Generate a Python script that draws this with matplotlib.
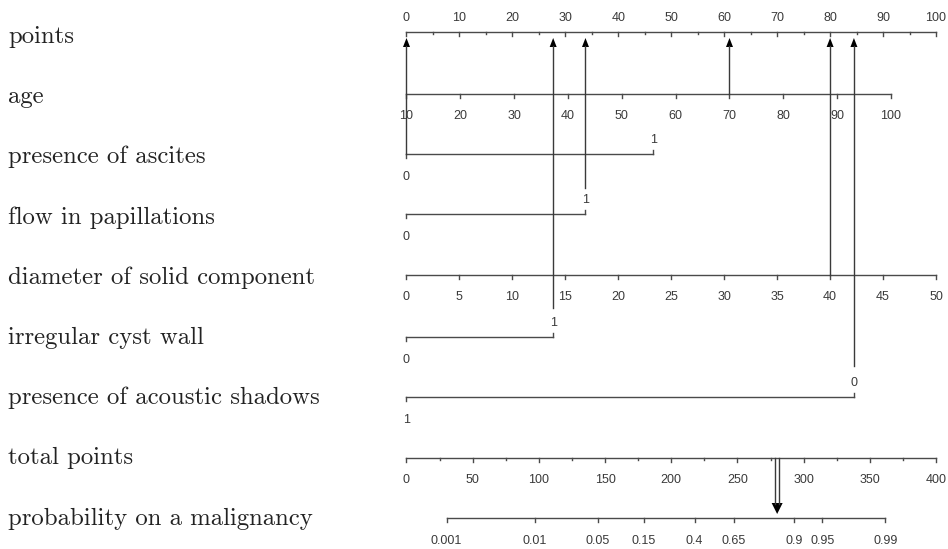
import numpy as np
import matplotlib.pyplot as plt
from matplotlib.transforms import blended_transform_factory

# Row names
row_labels = ['points', 'age', 'presence of ascites', 'flow in papillations',
              'diameter of solid component', 'irregular cyst wall',
              'presence of acoustic shadows', 'total points',
              'probability on a malignancy']

# Scales (points contributed by each predictor)
points_ticks = np.arange(0, 101, 10)
age_ticks = np.arange(10, 101, 10)
age_points_max = 91.5          # points at age 100 (age 10 -> 0)
diameter_ticks = np.arange(0, 51, 5)
diameter_points_per_unit = 2.0
ascites_levels = ['0', '1']
ascites_points = [0, 46.6]
flow_levels = ['0', '1']
flow_points = [0, 33.8]
wall_levels = ['0', '1']
wall_points = [0, 27.7]
shadow_levels = ['1', '0']
shadow_points = [0, 84.5]
total_ticks = np.arange(0, 401, 50)
prob_ticks = [0.001, 0.01, 0.05, 0.15, 0.4, 0.65, 0.9, 0.95, 0.99]
prob_labels = ['0.001', '0.01', '0.05', '0.15', '0.4', '0.65', '0.9', '0.95', '0.99']
lp_intercept = -7.956
lp_per_point = 0.0347

# Example patient drawn with arrows
patient_age = 70
patient_ascites = '0'
patient_flow = '1'
patient_diameter = 40
patient_wall = '1'
patient_shadow = '0'
patient_total = 280

# layout (pixel rows of each scale line)
line_y = [32, 94, 154, 214, 275, 337, 397, 458, 518]
px = 1 / 5.295                 # one pixel in points units
line_col = '#4a4a4a'
txt_col = '#3a3a3a'
tick_font = dict(family='Liberation Sans', size=9, color=txt_col)

fig = plt.figure(figsize=(9.48, 5.49), dpi=100)
ax = fig.add_axes([0, 0, 1, 1])
ax.set_xlim(-406.5 * px, (948 - 406.5) * px)
ax.set_ylim(549, 0)
ax.axis('off')

trans = blended_transform_factory(ax.transAxes, ax.transData)
for i, name in enumerate(row_labels):
    ax.text(8 / 948, 43 + 60.2 * i, name, transform=trans, family='cmr10',
            fontsize=17.8, color='#222222', va='baseline', ha='left')


def scale(y, xs, labels, label_dy, minor=None):
    ax.plot([xs[0], xs[-1]], [y, y], color=line_col, lw=1)
    for x, lab in zip(xs, labels):
        ax.plot([x, x], [y, y + 4], color=line_col, lw=1)
        ax.text(x, y + label_dy, lab, ha='center', va='center', **tick_font)
    if minor is not None:
        for x in minor:
            ax.plot([x, x], [y, y + 2], color=line_col, lw=1)


def binary(y, pts, levels):
    ax.plot([pts[0], pts[1]], [y, y], color=line_col, lw=1)
    ax.plot([pts[0], pts[0]], [y, y + 4], color=line_col, lw=1)
    ax.plot([pts[1], pts[1]], [y, y - 4], color=line_col, lw=1)
    ax.text(pts[1], y - 14, levels[1], ha='center', va='center', **tick_font)
    ax.text(pts[0], y + 23, levels[0], ha='center', va='center', **tick_font)


# points
scale(line_y[0], points_ticks, [str(t) for t in points_ticks], -14,
      minor=np.arange(5, 100, 10))
# age
age_x = (age_ticks - 10) / 90 * age_points_max
scale(line_y[1], age_x, [str(t) for t in age_ticks], 22)
# binaries
binary(line_y[2], ascites_points, ascites_levels)
binary(line_y[3], flow_points, flow_levels)
binary(line_y[5], wall_points, wall_levels)
binary(line_y[6], shadow_points, shadow_levels)
# diameter
scale(line_y[4], diameter_ticks * diameter_points_per_unit,
      [str(t) for t in diameter_ticks], 22)
# total points (400 total spans the 100-point width)
scale(line_y[7], total_ticks / 4, [str(t) for t in total_ticks], 22,
      minor=np.arange(25, 400, 50) / 4)
# probability
logit = np.log(np.array(prob_ticks) / (1 - np.array(prob_ticks)))
prob_x = (logit - lp_intercept) / lp_per_point / 4
scale(line_y[8], prob_x, prob_labels, 23)

# patient arrows up to the points line
arrows = [
    ((patient_age - 10) / 90 * age_points_max, line_y[1]),
    (ascites_points[ascites_levels.index(patient_ascites)], line_y[2]),
    (flow_points[flow_levels.index(patient_flow)], line_y[3] - 26),
    (patient_diameter * diameter_points_per_unit, line_y[4]),
    (wall_points[wall_levels.index(patient_wall)], line_y[5] - 29),
    (shadow_points[shadow_levels.index(patient_shadow)], line_y[6] - 31),
]
for x, y0 in arrows:
    ax.plot([x, x], [y0, 46], color='#3a3a3a', lw=1)
    ax.fill([x - 3.5 * px, x + 3.5 * px, x], [47, 47, 38], color='black', lw=0)

# double arrow from total points to probability
xt = patient_total / 4
for dx in (-1.9 * px, 1.9 * px):
    ax.plot([xt + dx, xt + dx], [line_y[7], 504], color='#3a3a3a', lw=1)
ax.fill([xt - 5.5 * px, xt + 5.5 * px, xt], [503, 503, 514], color='black', lw=0)

fig.savefig('out.png', dpi=100)
